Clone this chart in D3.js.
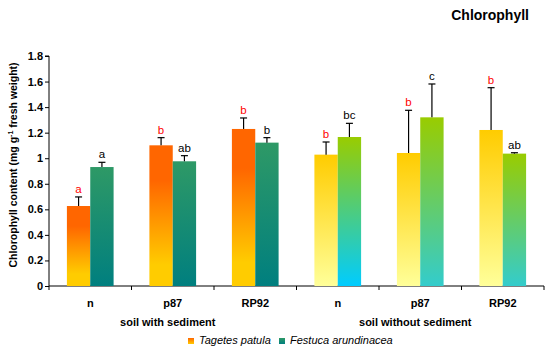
<!DOCTYPE html>
<html><head><meta charset="utf-8">
<script src="https://cdn.jsdelivr.net/npm/d3@7"></script>
<style>body{margin:0;background:#fff}svg{display:block;font-family:Arial,"Liberation Sans",sans-serif}</style>
</head><body>
<svg id="c" width="550" height="357"></svg>
<script>
const categories = ["n","p87","RP92","n","p87","RP92"];
const groups = ["soil with sediment","soil without sediment"];
const seriesNames = ["Tagetes patula","Festuca arundinacea"];
const tagetes = [0.626,1.101,1.229,1.028,1.041,1.221];
const tagetesErr = [0.071,0.060,0.086,0.099,0.334,0.331];
const tagetesLetters = ["a","b","b","b","b","b"];
const festuca = [0.931,0.976,1.122,1.166,1.320,1.036];
const festucaErr = [0.037,0.044,0.039,0.107,0.261,0.007];
const festucaLetters = ["a","ab","b","bc","c","ab"];
const yTicks = [0,0.2,0.4,0.6,0.8,1,1.2,1.4,1.6,1.8];

// gradient colours per bar [top, bottom]
const tagGrad = [["#FF6600","#FFCC00"],["#FF6600","#FFCC00"],["#FF6600","#FFCC00"],["#FFCC00","#FFFF99"],["#FFCC00","#FFFF99"],["#FFCC00","#FFFF99"]];
const fesGrad = [["#2E9966","#007F7F"],["#2E9966","#007F7F"],["#2E9966","#007F7F"],["#99CC00","#00CCFF"],["#99CC00","#33CCCC"],["#99CC00","#33CCCC"]];

const svg = d3.select("#c");
const m = {l:49, r:544, t:56, b:286};
const x = d3.scaleBand().domain(d3.range(categories.length)).range([m.l, m.r]).paddingInner(0).paddingOuter(0);
const y = d3.scaleLinear().domain([0,1.8]).range([m.b, m.t]);
const bw = x.bandwidth()*0.283;

const defs = svg.append("defs");
function mkGrad(id, c, orange){
  const g = defs.append("linearGradient").attr("id",id).attr("x1",0).attr("y1",0).attr("x2",0).attr("y2",1);
  if(orange){
    g.append("stop").attr("offset","0%").attr("stop-color",c[0]);
    g.append("stop").attr("offset","25%").attr("stop-color",c[0]);
    g.append("stop").attr("offset","85%").attr("stop-color",c[1]);
    g.append("stop").attr("offset","100%").attr("stop-color",c[1]);
  } else {
    g.append("stop").attr("offset","0%").attr("stop-color",c[0]);
    g.append("stop").attr("offset","100%").attr("stop-color",c[1]);
  }
}
tagGrad.forEach((c,i)=>mkGrad("tg"+i,c,i<3));
fesGrad.forEach((c,i)=>mkGrad("fg"+i,c,false));
mkGrad("legT",["#FF6600","#FFCC00"],false);
mkGrad("legF",["#2E9966","#007F7F"],false);

// axes
const yAxis = d3.axisLeft(y).tickValues(yTicks).tickSize(4).tickFormat(d=>d3.format("")(+d.toFixed(1)));
const gy = svg.append("g").attr("transform",`translate(${m.l},0)`).call(yAxis);
gy.select(".domain").attr("d",`M-4,${m.t}H0V${m.b}`).attr("stroke","#000");
gy.selectAll("text").attr("font-size",11).attr("font-weight","bold").attr("fill","#000").attr("x",-6);

const gx = svg.append("g").attr("transform",`translate(0,${m.b})`);
gx.append("line").attr("x1",m.l).attr("x2",m.r).attr("stroke","#000");
const tickPos = d3.range(categories.length+1).map(i=> i<categories.length ? x(i) : m.r);
gx.selectAll(".tk").data(tickPos).join("line").attr("x1",d=>d).attr("x2",d=>d).attr("y1",0).attr("y2",4).attr("stroke","#000");
gx.selectAll(".cl").data(categories).join("text")
  .attr("x",(d,i)=>x(i)+x.bandwidth()/2).attr("y",21).attr("text-anchor","middle")
  .attr("font-size",11).attr("font-weight","bold").text(d=>d);
gx.selectAll(".gl").data(groups).join("text")
  .attr("x",(d,i)=>(x(i*3)+ (i==0?x(3):m.r))/2 - 5).attr("y",40).attr("text-anchor","middle")
  .attr("font-size",11).attr("font-weight","bold").text(d=>d);

// bars
const idx = d3.range(categories.length);
const center = i => x(i)+x.bandwidth()/2;
svg.selectAll(".bt").data(idx).join("rect")
  .attr("x",i=>center(i)-bw).attr("width",bw)
  .attr("y",i=>y(tagetes[i])).attr("height",i=>y(0)-y(tagetes[i]))
  .attr("fill",i=>`url(#tg${i})`);
svg.selectAll(".bf").data(idx).join("rect")
  .attr("x",i=>center(i)).attr("width",bw)
  .attr("y",i=>y(festuca[i])).attr("height",i=>y(0)-y(festuca[i]))
  .attr("fill",i=>`url(#fg${i})`);

function errs(vals, errv, letters, off, col){
  const g = svg.append("g");
  idx.forEach(i=>{
    const cx = center(i)+off;
    const y0 = y(vals[i]), y1 = y(vals[i]+errv[i]);
    g.append("line").attr("x1",cx).attr("x2",cx).attr("y1",y0).attr("y2",y1).attr("stroke","#000").attr("stroke-width",1.2);
    g.append("line").attr("x1",cx-3.5).attr("x2",cx+3.5).attr("y1",y1).attr("y2",y1).attr("stroke","#000").attr("stroke-width",1.2);
    g.append("text").attr("x",cx).attr("y",y1-4).attr("text-anchor","middle").attr("font-size",11.5).attr("fill",col).text(letters[i]);
  });
}
errs(tagetes,tagetesErr,tagetesLetters,-bw/2,"#FF0000");
errs(festuca,festucaErr,festucaLetters,bw/2,"#000");

// y label
svg.append("text").attr("transform","translate(17,165) rotate(-90)").attr("text-anchor","middle")
  .attr("font-size",10.5).attr("font-weight","bold")
  .call(t=>{
    t.append("tspan").text("Chlorophyll content (mg g");
    t.append("tspan").attr("dy",-4).attr("font-size",7).text("-1");
    t.append("tspan").attr("dy",4).text(" fresh weight)");
  });

// title
svg.append("text").attr("x",529).attr("y",20).attr("text-anchor","end").attr("font-size",14).attr("font-weight","bold").text("Chlorophyll");

// legend
const leg = svg.append("g").attr("transform","translate(188,344)");
const legItems = [{n:seriesNames[0],g:"legT",x:0},{n:seriesNames[1],g:"legF",x:91}];
legItems.forEach(d=>{
  leg.append("rect").attr("x",d.x).attr("y",-6).attr("width",6).attr("height",6).attr("fill",`url(#${d.g})`);
  leg.append("text").attr("x",d.x+11).attr("y",0).attr("font-size",11).attr("font-style","italic").text(d.n);
});
</script>
</body></html>
